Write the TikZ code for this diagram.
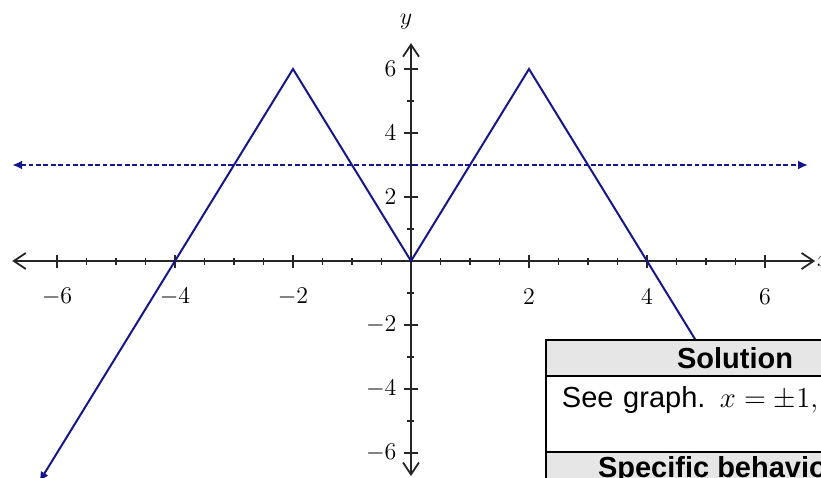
\documentclass[tikz,border=0pt]{standalone}
\usepackage{amsmath,amssymb}
\usepackage{fontspec}
\usepackage{tikz}
\usetikzlibrary{arrows.meta,positioning}
\newfontfamily\tabfont{Liberation Sans}
\definecolor{graphblue}{RGB}{22,22,140}
\definecolor{headgray}{RGB}{230,230,230}
\tikzset{
	axisline/.style={line width=0.9pt, draw=black!85},
	axisarr/.style={axisline, {Straight Barb[length=6pt,width=8pt]}-{Straight Barb[length=6pt,width=8pt]}},
	graphline/.style={line width=1pt, draw=graphblue, {Latex[length=5pt,width=4.5pt]}-{Latex[length=5pt,width=4.5pt]}},
	levelline/.style={graphline, dash pattern=on 2.4pt off 1.3pt},
	ticklbl/.style={font=\fontsize{12.5}{15}\selectfont, inner sep=0pt},
	tablehead/.style={rectangle, draw=black, line width=1pt, fill=headgray, minimum width=189pt,
		minimum height=18pt, inner sep=0pt, outer sep=0pt, font=\fontsize{14.5}{17.5}\selectfont\tabfont\bfseries},
	tablecell/.style={rectangle, draw=black, line width=1pt, fill=white, text width=173pt, inner xsep=8pt,
		inner ysep=0pt, minimum height=38pt, outer sep=0pt, align=left, font=\fontsize{14.5}{17.5}\selectfont\tabfont}
}
\begin{document}
\begin{tikzpicture}[x=29.5pt, y=16pt, node distance=0pt]
	\useasboundingbox (-6.966,-6.75) rectangle (6.949,8.156);
	\clip (-6.966,-6.75) rectangle (6.949,8.156);
	% axes
	\draw[axisarr] (-6.76,0) -- (6.85,0);
	\draw[axisarr] (0,-6.72) -- (0,6.81);
	\foreach \x in {-6,-5.5,...,6} \draw[axisline] (\x,0) ++(0,-1.75pt) -- ++(0,3.5pt);
	\foreach \y in {-6,...,6} \draw[axisline] (0,\y) ++(-1.75pt,0) -- ++(3.5pt,0);
	\foreach \v in {-6,-4,-2,2,4,6} {
		\draw[axisline] (\v,0) ++(0,-3.25pt) -- ++(0,6.5pt);
		\draw[axisline] (0,\v) ++(-3.25pt,0) -- ++(6.5pt,0);
		\node[ticklbl] (xl\v) at (\v,-1.12) {$\v$};
		\node[ticklbl, anchor=east] (yl\v) at (-0.24,\v) {$\v$};
	}
	\node[ticklbl] (ylab) at (-0.085,7.47) {$y$};
	\node[ticklbl, anchor=west] (xlab) at (6.875,0) {$x$};
	% graph and the line y=3
	\draw[levelline] (-6.76,3) -- (6.73,3);
	\draw[graphline] (-6.3,-6.9) -- (-2,6) -- (0,0) -- (2,6) -- (6.3,-6.9);
	% marking table
	\node[tablehead, anchor=north west] (solhead) at (2.288,-2.469) {Solution};
	\node[tablecell, below=of solhead] (solbody) {See graph. $x=\pm1,\pm3$\\\mbox{}};
	\node[tablehead, below=of solbody] (behhead) {Specific behaviours};
\end{tikzpicture}
\end{document}
